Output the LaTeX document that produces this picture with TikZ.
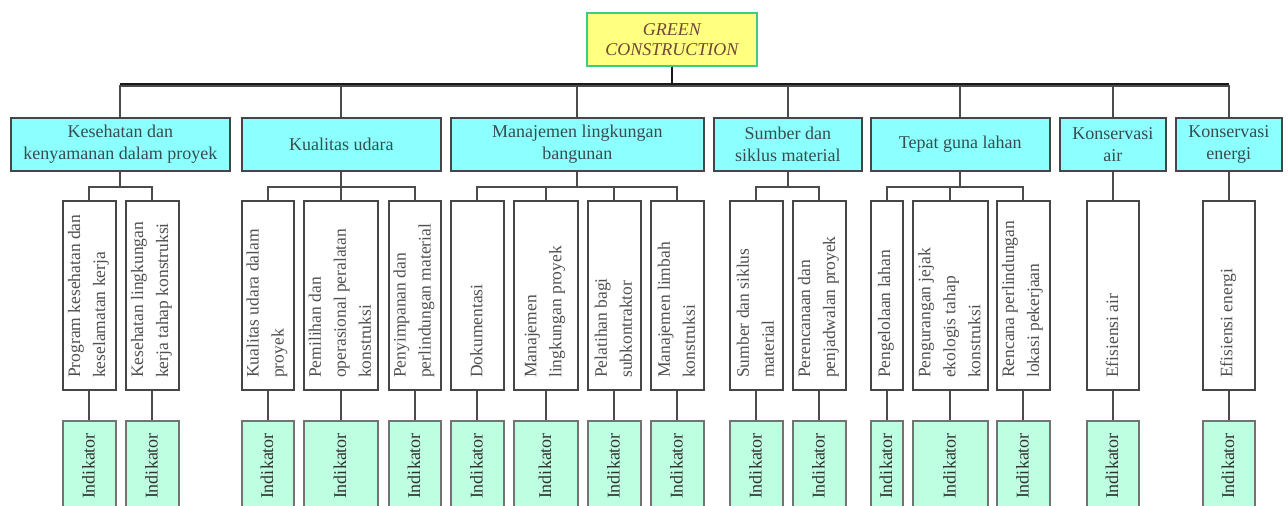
\documentclass[tikz,border=0pt]{standalone}
\usepackage{fontspec}
\setmainfont{Liberation Serif}
\definecolor{cRootFill}{RGB}{255,255,128}
\definecolor{cRootDraw}{RGB}{60,205,130}
\definecolor{cRootText}{RGB}{115,70,55}
\definecolor{cLtwoFill}{RGB}{140,255,255}
\definecolor{cLtwoText}{RGB}{55,78,78}
\definecolor{cBoxDraw}{RGB}{70,70,70}
\definecolor{cLthreeText}{RGB}{80,80,80}
\definecolor{cIndFill}{RGB}{190,255,226}
\definecolor{cIndDraw}{RGB}{115,115,115}
\definecolor{cIndText}{RGB}{50,50,50}
\definecolor{cConn}{RGB}{75,75,75}
\newcommand{\mkleaf}[4]{%
  \node[l3box, minimum width={(#3-#2)*1pt}, anchor=north west] (#1) at (#2,200) {};
  \node[l3txt, anchor=west] (#1t) at ({(#2+#3)/2},378) {#4};
  \node[indbox, minimum width={(#3-#2)*1pt}, anchor=north west] (#1i) at (#2,420) {};
  \node[indtxt] (#1it) at ({(#2+#3)/2},466) {Indikator};
  \draw[conn] (#1.south) -- (#1i.north);
}
\begin{document}
\begin{tikzpicture}[x=1pt,y=-1pt,
  rootbox/.style={draw=cRootDraw, fill=cRootFill, line width=1.6pt, minimum width=170pt, minimum height=53pt, align=center, inner sep=0pt, text=cRootText, font=\itshape\fontsize{18}{20}\selectfont},
  l2box/.style={draw=cBoxDraw, fill=cLtwoFill, line width=1.6pt, minimum height=53pt, align=center, inner sep=0pt, text=cLtwoText, font=\fontsize{18}{22}\selectfont},
  l3box/.style={draw=cBoxDraw, fill=white, line width=1.6pt, minimum height=189pt, inner sep=0pt},
  l3txt/.style={rotate=90, align=left, inner sep=0pt, text=cLthreeText, font=\fontsize{17.5}{25}\selectfont},
  indbox/.style={draw=cIndDraw, fill=cIndFill, line width=1.6pt, minimum height=110pt, inner sep=0pt},
  indtxt/.style={rotate=90, inner sep=0pt, text=cIndText, font=\fontsize{18}{20}\selectfont},
  conn/.style={draw=cConn, line width=1.8pt},
  busline/.style={draw=black!90, line width=2.6pt}
]
\useasboundingbox (0,0) rectangle (1288,506);
\clip (0,0) rectangle (1288,506);

% root
\node[rootbox, anchor=north west] (root) at (586,12) {GREEN\\CONSTRUCTION};

% level 2
\node[l2box, minimum width=219pt, anchor=north west] (L1) at (10,117) {Kesehatan dan\\kenyamanan dalam proyek};
\node[l2box, minimum width=199pt, anchor=north west] (L2) at (241,117) {Kualitas udara};
\node[l2box, minimum width=253pt, anchor=north west] (L3) at (450,117) {Manajemen lingkungan\\bangunan};
\node[l2box, minimum width=148pt, anchor=north west] (L4) at (713,117) {Sumber dan\\siklus material};
\node[l2box, minimum width=179pt, anchor=north west] (L5) at (870,117) {Tepat guna lahan};
\node[l2box, minimum width=106pt, anchor=north west] (L6) at (1059,117) {Konservasi\\air};
\node[l2box, minimum width=106pt, anchor=north west] (L7) at (1175,117) {Konservasi\\energi};

% root connectors
\foreach \n in {L1,L2,L3,L4,L5,L6,L7}{
  \draw[conn] (root.south) -- ++(0,19) -| (\n.north);
}
\coordinate (busy) at (0,84);
\draw[busline] (L1.north |- busy) -- (L7.north |- busy);
\draw[busline] (root.south) -- (root.south |- busy);

% level 3 + indicators
\mkleaf{a}{62}{115}{Program kesehatan dan\\keselamatan kerja}
\mkleaf{b}{125}{178}{Kesehatan lingkungan\\kerja tahap konstruksi}
\mkleaf{c}{241}{293}{Kualitas udara dalam\\proyek}
\mkleaf{d}{303}{377}{Pemilihan dan\\operasional peralatan\\konstruksi}
\mkleaf{e}{388}{440}{Penyimpanan dan\\perlindungan material}
\mkleaf{f}{450}{503}{Dokumentasi}
\mkleaf{g}{513}{577}{Manajemen\\lingkungan proyek}
\mkleaf{h}{587}{640}{Pelatihan bagi\\subkontraktor}
\mkleaf{i}{650}{703}{Manajemen limbah\\konstruksi}
\mkleaf{j}{729}{782}{Sumber dan siklus\\material}
\mkleaf{k}{792}{845}{Perencanaan dan\\penjadwalan proyek}
\mkleaf{l}{870}{902}{Pengelolaan lahan}
\mkleaf{m}{912}{987}{Pengurangan jejak\\ekologis tahap\\konstruksi}
\mkleaf{n}{996}{1049}{Rencana perlindungan\\lokasi pekerjaan}
\mkleaf{o}{1086}{1138}{Efisiensi air}
\mkleaf{p}{1202}{1254}{Efisiensi energi}

% sub-tree connectors
\foreach \c in {a,b}{\draw[conn] (L1.south) -- ++(0,15) -| (\c.north);}
\foreach \c in {c,d,e}{\draw[conn] (L2.south) -- ++(0,15) -| (\c.north);}
\foreach \c in {f,g,h,i}{\draw[conn] (L3.south) -- ++(0,15) -| (\c.north);}
\foreach \c in {j,k}{\draw[conn] (L4.south) -- ++(0,15) -| (\c.north);}
\foreach \c in {l,m,n}{\draw[conn] (L5.south) -- ++(0,15) -| (\c.north);}
\draw[conn] (L6.south) -- (o.north);
\draw[conn] (L7.south) -- (p.north);
\end{tikzpicture}
\end{document}
